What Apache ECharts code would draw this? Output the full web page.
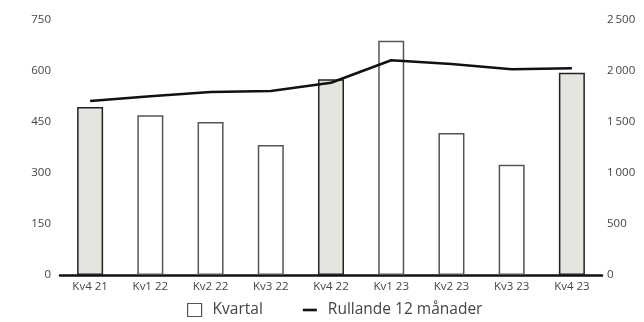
<!DOCTYPE html>
<html>
<head>
<meta charset="utf-8">
<script src="https://cdn.jsdelivr.net/npm/echarts@6/dist/echarts.min.js"></script>
<style>
  html, body { margin: 0; padding: 0; background: #fff; }
  #chart { width: 644px; height: 322px; }
</style>
</head>
<body>
<div id="chart"></div>
<script>
// Quarterly figures (left axis) and rolling 12 months (right axis)
const categories = ['Kv4 21', 'Kv1 22', 'Kv2 22', 'Kv3 22', 'Kv4 22', 'Kv1 23', 'Kv2 23', 'Kv3 23', 'Kv4 23'];
const quarterValues = [494, 470, 450, 382, 576, 689, 418, 324, 595];
const rollingValues = [1706, 1752, 1794, 1804, 1885, 2105, 2069, 2016, 2026];
const leftTicks = [0, 150, 300, 450, 600, 750];
const rightTicks = [0, 500, 1000, 1500, 2000, 2500];

const FONT = '"Open Sans", "Noto Sans", sans-serif';
const fullYear = c => c.startsWith('Kv4');

const fmtThousands = v => String(v).replace(/\B(?=(\d{3})+(?!\d))/g, '\u2009');

const chart = echarts.init(document.getElementById('chart'));
chart.setOption({
  animation: false,
  textStyle: { fontFamily: FONT },
  grid: { left: 60, right: 42, top: 20, bottom: 47, containLabel: false },
  legend: {
    top: 302,
    left: 187,
    padding: 0,
    itemGap: 40,
    itemWidth: 14,
    itemHeight: 13,
    textStyle: { fontFamily: FONT, fontSize: 15.5, color: '#444', padding: [0, 0, 0, 6] },
    data: [
      { name: 'Kvartal', icon: 'rect', itemStyle: { color: '#fff', borderColor: '#555', borderWidth: 1.2 } },
      { name: 'Rullande 12 månader', icon: 'path://M0,0 L16,0 L16,3 L0,3 Z', itemStyle: { color: '#111' } }
    ]
  },
  xAxis: {
    type: 'category',
    data: categories,
    axisLine: { lineStyle: { color: '#111', width: 2.5 } },
    axisTick: { show: false },
    axisLabel: { color: '#444', fontSize: 11.5, margin: 6 }
  },
  yAxis: [
    {
      type: 'value',
      min: leftTicks[0], max: leftTicks[leftTicks.length - 1], interval: 150,
      splitLine: { show: false },
      axisLine: { show: false },
      axisTick: { show: false },
      axisLabel: { color: '#444', fontSize: 11.5, margin: 9 }
    },
    {
      type: 'value',
      min: rightTicks[0], max: rightTicks[rightTicks.length - 1], interval: 500,
      splitLine: { show: false },
      axisLine: { show: false },
      axisTick: { show: false },
      axisLabel: { color: '#444', fontSize: 11.5, margin: 5, formatter: fmtThousands }
    }
  ],
  series: [
    {
      name: 'Kvartal',
      type: 'bar',
      yAxisIndex: 0,
      barWidth: 26,
      data: quarterValues.map((v, i) => ({
        value: v,
        itemStyle: fullYear(categories[i])
          ? { color: '#e5e4df', borderColor: '#222', borderWidth: 1.5 }
          : { color: '#fff', borderColor: '#555', borderWidth: 1.5 }
      })),
      z: 2
    },
    {
      name: 'Rullande 12 månader',
      type: 'line',
      yAxisIndex: 1,
      data: rollingValues,
      symbol: 'none',
      lineStyle: { color: '#111', width: 2.5 },
      itemStyle: { color: '#111' },
      z: 3
    }
  ]
});
</script>
</body>
</html>
